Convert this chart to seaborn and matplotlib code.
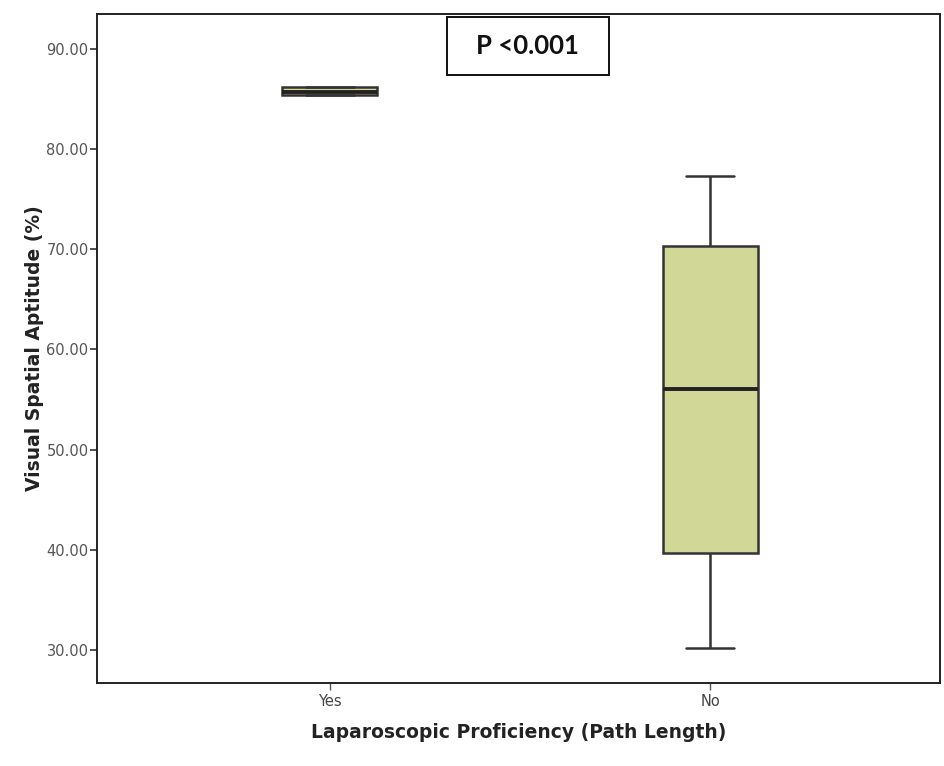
import matplotlib
matplotlib.use("Agg")
import matplotlib.pyplot as plt
import matplotlib.patches as mpatches
import seaborn as sns
import pandas as pd

# Five-number summaries (min, Q1, median, Q3, max) for each proficiency group
groups = ["Yes", "No"]
yes_summary = [85.4, 85.4, 85.7, 86.2, 86.2]
no_summary = [30.2, 39.7, 56.1, 70.3, 77.3]
y_ticks = [30, 40, 50, 60, 70, 80, 90]
p_label = "P <0.001"

df = pd.DataFrame({
    "group": [groups[0]] * len(yes_summary) + [groups[1]] * len(no_summary),
    "score": yes_summary + no_summary,
})

sns.set_theme(style="white")
plt.rcParams["font.family"] = ["DejaVu Sans"]

fig = plt.figure(figsize=(9.45, 7.66), dpi=100)
ax = fig.add_axes([0.1026, 0.1084, 0.8921, 0.8733])

edge = "#333333"
sns.boxplot(
    data=df, x="group", y="score", order=groups, ax=ax,
    color="#d1d797", saturation=1, width=0.25, whis=1.5,
    linewidth=1.8, linecolor=edge, showfliers=False,
    medianprops=dict(color="#222222", linewidth=2.8),
)

ax.set_xlim(-0.613, 1.605)
ax.set_ylim(26.7, 93.5)
ax.set_yticks(y_ticks)
ax.set_yticklabels([f"{v:.2f}" for v in y_ticks])

for side in ["left", "right", "top", "bottom"]:
    ax.spines[side].set_visible(True)
    ax.spines[side].set_color("#222222")
    ax.spines[side].set_linewidth(1.4)

ax.tick_params(axis="y", direction="out", length=5, width=1.2, color="#333333",
               labelsize=10.5, labelcolor="#555555", left=True, pad=1)
ax.tick_params(axis="x", direction="out", length=5, width=1.0, color="#555555",
               labelsize=10.5, labelcolor="#444444", bottom=True, pad=3)

ax.set_xlabel("Laparoscopic Proficiency (Path Length)", fontsize=13.5,
              fontweight="bold", color="#222222", labelpad=10)
ax.set_ylabel("Visual Spatial Aptitude (%)", fontsize=13.5,
              fontweight="bold", color="#222222", labelpad=2)

# Significance annotation in a framed box at the top of the plot
cx, cy, w, h = 0.511, 0.952, 0.192, 0.087
ax.add_patch(mpatches.Rectangle((cx - w / 2, cy - h / 2), w, h,
                                transform=ax.transAxes, facecolor="white",
                                edgecolor="#111111", linewidth=1.4, zorder=5))
ax.text(cx, cy, p_label, transform=ax.transAxes, ha="center", va="center",
        fontsize=18.5, fontweight="bold", color="#111111",
        family=["Lato", "DejaVu Sans"], zorder=6)

fig.savefig("out.png", dpi=100, facecolor="white")
